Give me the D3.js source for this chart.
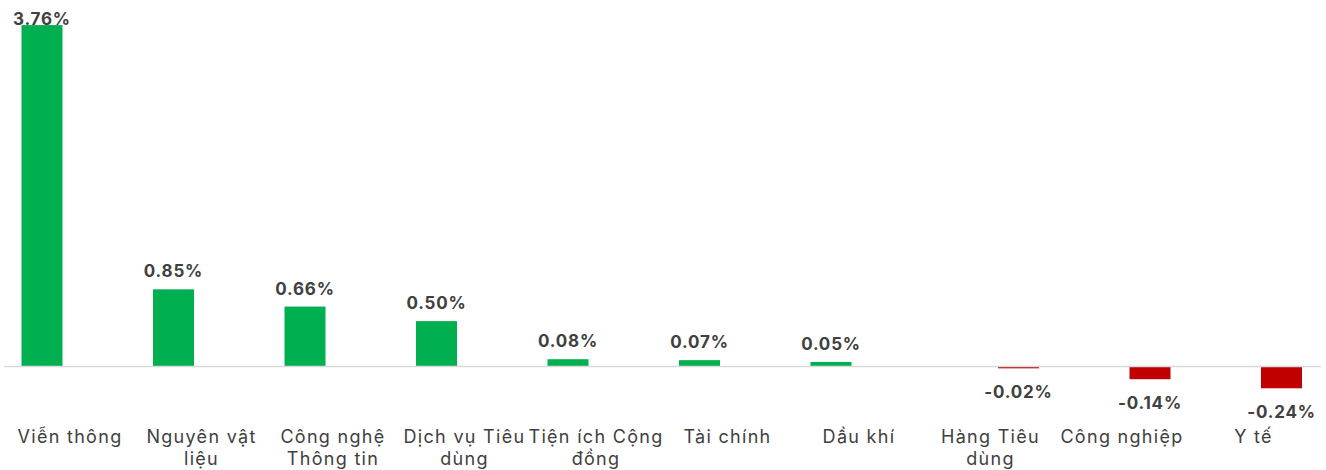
<!DOCTYPE html>
<html>
<head>
<meta charset="utf-8">
<script src="https://cdn.jsdelivr.net/npm/d3@7"></script>
<style>
  html, body { margin: 0; padding: 0; background: #fff; }
  svg { display: block; }
  text { font-family: Inter, "Open Sans", sans-serif; fill: #404040; }
</style>
</head>
<body>
<svg id="chart" width="1326" height="470"></svg>
<script>
// ---- data ----
const categories = ["Viễn thông","Nguyên vật liệu","Công nghệ Thông tin","Dịch vụ Tiêu dùng","Tiện ích Cộng đồng","Tài chính","Dầu khí","Hàng Tiêu dùng","Công nghiệp","Y tế"];
const categoryLines = [["Viễn thông"],["Nguyên vật","liệu"],["Công nghệ","Thông tin"],["Dịch vụ Tiêu","dùng"],["Tiện ích Cộng","đồng"],["Tài chính"],["Dầu khí"],["Hàng Tiêu","dùng"],["Công nghiệp"],["Y tế"]];
const values = [3.76, 0.85, 0.66, 0.50, 0.08, 0.07, 0.05, -0.02, -0.14, -0.24];
const seriesNames = ["Tăng", "Giảm"];

const svg = d3.select("#chart");
const zeroY = 366.5;
const pxPerUnit = 90.8;

const x = d3.scaleBand().domain(categories).range([4.25, 1319.25]).padding(0);
const xInner = d3.scaleBand().domain(seriesNames)
  .range([9.75, 121.75]).paddingInner(0.268).paddingOuter(0.134);
const y = d3.scaleLinear().domain([0, 1]).range([zeroY, zeroY - pxPerUnit]);

const data = categories.map((c, i) => ({
  cat: c, v: values[i], lines: categoryLines[i],
  series: values[i] >= 0 ? seriesNames[0] : seriesNames[1]
}));

// bars
svg.append("g").selectAll("rect").data(data).join("rect")
  .attr("x", d => x(d.cat) + xInner(d.series))
  .attr("width", xInner.bandwidth())
  .attr("y", d => Math.min(y(d.v), y(0)))
  .attr("height", d => Math.abs(y(d.v) - y(0)))
  .attr("fill", d => d.v >= 0 ? "#00B050" : "#C00000");

// zero axis line
svg.append("line")
  .attr("x1", 4).attr("x2", 1321)
  .attr("y1", y(0)).attr("y2", y(0))
  .attr("stroke", "#d9d9d9").attr("stroke-width", 1.3);

// value labels
const fmt = v => d3.format(".2f")(v).replace("\u2212", "-") + "%";
svg.append("g").selectAll("text").data(data).join("text")
  .attr("x", d => x(d.cat) + xInner(d.series) + xInner.bandwidth() / 2)
  .attr("y", d => d.v >= 0 ? Math.max(y(d.v) - 12, 25) : y(d.v) + 30)
  .attr("text-anchor", "middle")
  .attr("font-size", 17)
  .attr("font-weight", 700)
  .attr("letter-spacing", 0.8)
  .text(d => fmt(d.v));

// category labels
const lab = svg.append("g").selectAll("text").data(data).join("text")
  .attr("x", d => x(d.cat) + x.bandwidth() / 2)
  .attr("y", 443)
  .attr("text-anchor", "middle")
  .attr("font-size", 18)
  .attr("letter-spacing", 1.3);
lab.selectAll("tspan").data(d => d.lines.map(l => ({ l, x: x(d.cat) + x.bandwidth() / 2 })))
  .join("tspan")
  .attr("x", t => t.x)
  .attr("dy", (t, i) => i === 0 ? 0 : 22)
  .text(t => t.l);
</script>
</body>
</html>
